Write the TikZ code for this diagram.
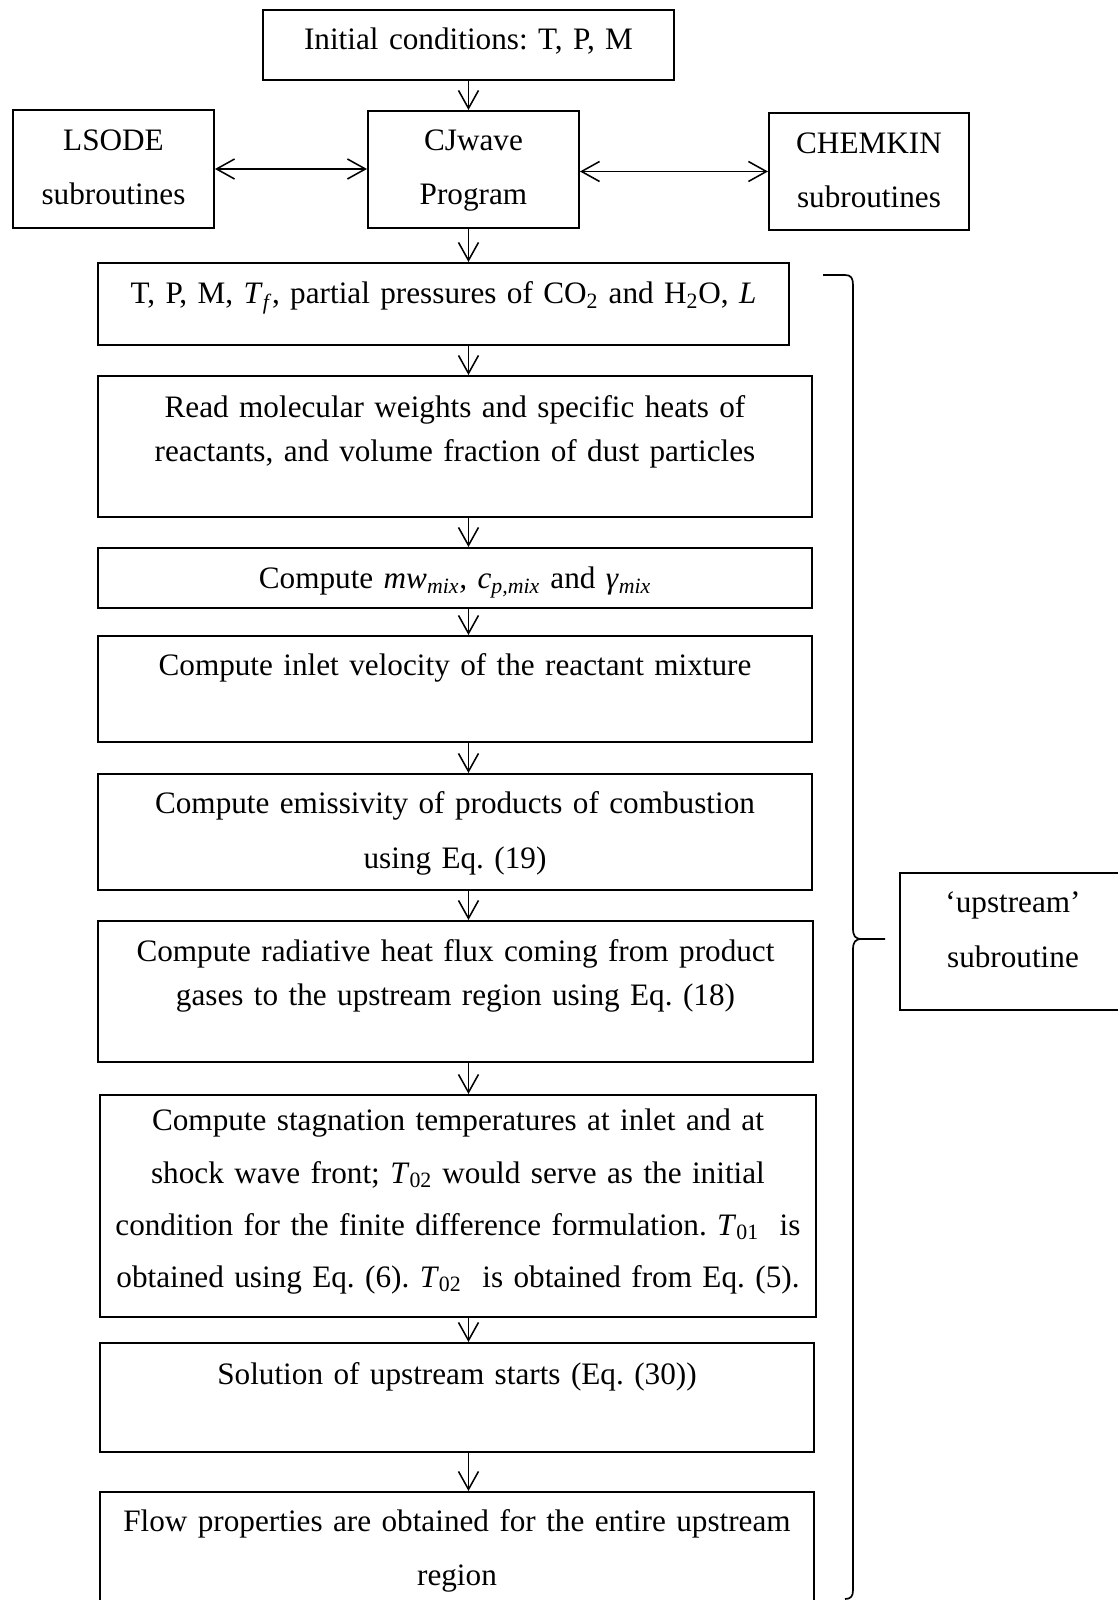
\documentclass[tikz,border=0pt]{standalone}
\usepackage{fontspec}
\setmainfont{Liberation Serif}
\usepackage{tikz}
\usetikzlibrary{arrows.meta}
\frenchspacing

\begin{document}
\begin{tikzpicture}[
        >={Straight Barb[length=0.45cm, width=0.5cm]},
        boxnode/.style={rectangle, draw=black, line width=1.4pt, inner sep=0pt, align=center, anchor=north west, font=\fontsize{22.2pt}{#1}\selectfont},
        boxnode/.default=38.4pt,
        flowarrow/.style={->, line width=1.1pt, color=black},
        linkarrow/.style={<->, line width=1.1pt, color=black},
        bracket/.style={line width=1.2pt, color=black}
    ]
        \useasboundingbox (0, 0) rectangle (27.95, -40);

        % Program and libraries
        \node[boxnode, text width=10.275cm, text height=1.0cm, text depth=0.75cm] (init) at (6.55, -0.225) {Initial conditions: T, P, M};
        \node[boxnode, text width=5.025cm, text height=1.025cm, text depth=1.925cm] (lsode) at (0.3, -2.725) {LSODE\\ subroutines};
        \node[boxnode, text width=5.275cm, text height=1.0cm, text depth=1.925cm] (cjwave) at (9.175, -2.75) {CJwave\\ Program};
        \node[boxnode, text width=5.0cm, text height=1.025cm, text depth=1.9cm] (chemkin) at (19.2, -2.8) {CHEMKIN\\ subroutines};

        % Upstream steps
        \node[boxnode, text width=17.275cm, text height=1.025cm, text depth=1.025cm] (inputs) at (2.425, -6.55) {T, P, M, \textit{T}\textsubscript{\textit{f}}, partial pressures of CO\textsubscript{2} and H\textsubscript{2}O, \textit{L}};
        \node[boxnode=31.3pt, text width=17.85cm, text height=1.05cm, text depth=2.475cm] (props) at (2.425, -9.375) {Read molecular weights and specific heats of\\ reactants, and volume fraction of dust particles};
        \node[boxnode, text width=17.85cm, text height=1.025cm, text depth=0.475cm] (mixprops) at (2.425, -13.675) {Compute \textit{mw}\textsubscript{\textit{mix}}\textit{,} \textit{c}\textsubscript{\textit{p,mix}} and \textit{γ}\textsubscript{\textit{mix}}};
        \node[boxnode, text width=17.85cm, text height=1.0cm, text depth=1.65cm] (inlet) at (2.425, -15.875) {Compute inlet velocity of the reactant mixture};
        \node[boxnode=39.1pt, text width=17.85cm, text height=1.0cm, text depth=1.9cm] (emiss) at (2.425, -19.325) {Compute emissivity of products of combustion\\ using Eq. (19)};
        \node[boxnode=30.6pt, text width=17.875cm, text height=1.025cm, text depth=2.5cm] (radflux) at (2.425, -23.0) {Compute radiative heat flux coming from product\\ gases to the upstream region using Eq. (18)};
        \node[boxnode=37pt, text width=17.9cm, text height=0.9cm, text depth=4.65cm] (stag) at (2.475, -27.35) {Compute stagnation temperatures at inlet and at\\ shock wave front; \textit{T}\textsubscript{02} would serve as the initial\\ condition for the finite difference formulation. \textit{T}\textsubscript{01}~ is\\ obtained using Eq. (6). \textit{T}\textsubscript{02}~ is obtained from Eq. (5).};
        \node[boxnode, text width=17.85cm, text height=1.025cm, text depth=1.7cm] (solve) at (2.475, -33.55) {Solution of upstream starts (Eq. (30))};
        \node[boxnode=39.1pt, text width=17.85cm, text height=0.975cm, text depth=1.85cm] (flowprops) at (2.475, -37.275) {Flow properties are obtained for the entire upstream\\ region};

        % Subroutine label
        \node[boxnode=39.1pt, text width=5.65cm, text height=1.0cm, text depth=2.425cm] (upsub) at (22.475, -21.8) {‘upstream’\\ subroutine};

        % Connections
        \draw[flowarrow] (init.south) -- (cjwave.north -| init.south);
        \draw[linkarrow] (lsode.east) -- (cjwave.west |- lsode.east);
        \draw[linkarrow] (cjwave.east |- chemkin.west) -- (chemkin.west);
        \draw[flowarrow] (cjwave.south -| init.south) -- (inputs.north -| init.south);
        \draw[flowarrow] (inputs.south -| init.south) -- (props.north -| init.south);
        \draw[flowarrow] (props.south -| init.south) -- (mixprops.north -| init.south);
        \draw[flowarrow] (mixprops.south -| init.south) -- (inlet.north -| init.south);
        \draw[flowarrow] (inlet.south -| init.south) -- (emiss.north -| init.south);
        \draw[flowarrow] (emiss.south -| init.south) -- (radflux.north -| init.south);
        \draw[flowarrow] (radflux.south -| init.south) -- (stag.north -| init.south);
        \draw[flowarrow] (stag.south -| init.south) -- (solve.north -| init.south);
        \draw[flowarrow] (solve.south -| init.south) -- (flowprops.north -| init.south);

        % Brace
        \draw[bracket] (20.575, -6.875) -- (21.125, -6.875) .. controls (21.275, -6.875) and (21.325, -6.95) .. (21.325, -7.125) -- (21.325, -23.2) .. controls (21.325, -23.4) and (21.375, -23.475) .. (21.55, -23.475) -- (22.125, -23.475);
        \draw[bracket] (21.55, -23.475) .. controls (21.375, -23.475) and (21.325, -23.55) .. (21.325, -23.75) -- (21.325, -39.75) .. controls (21.325, -39.9) and (21.275, -39.975) .. (21.125, -39.975);
    \end{tikzpicture}
\end{document}
